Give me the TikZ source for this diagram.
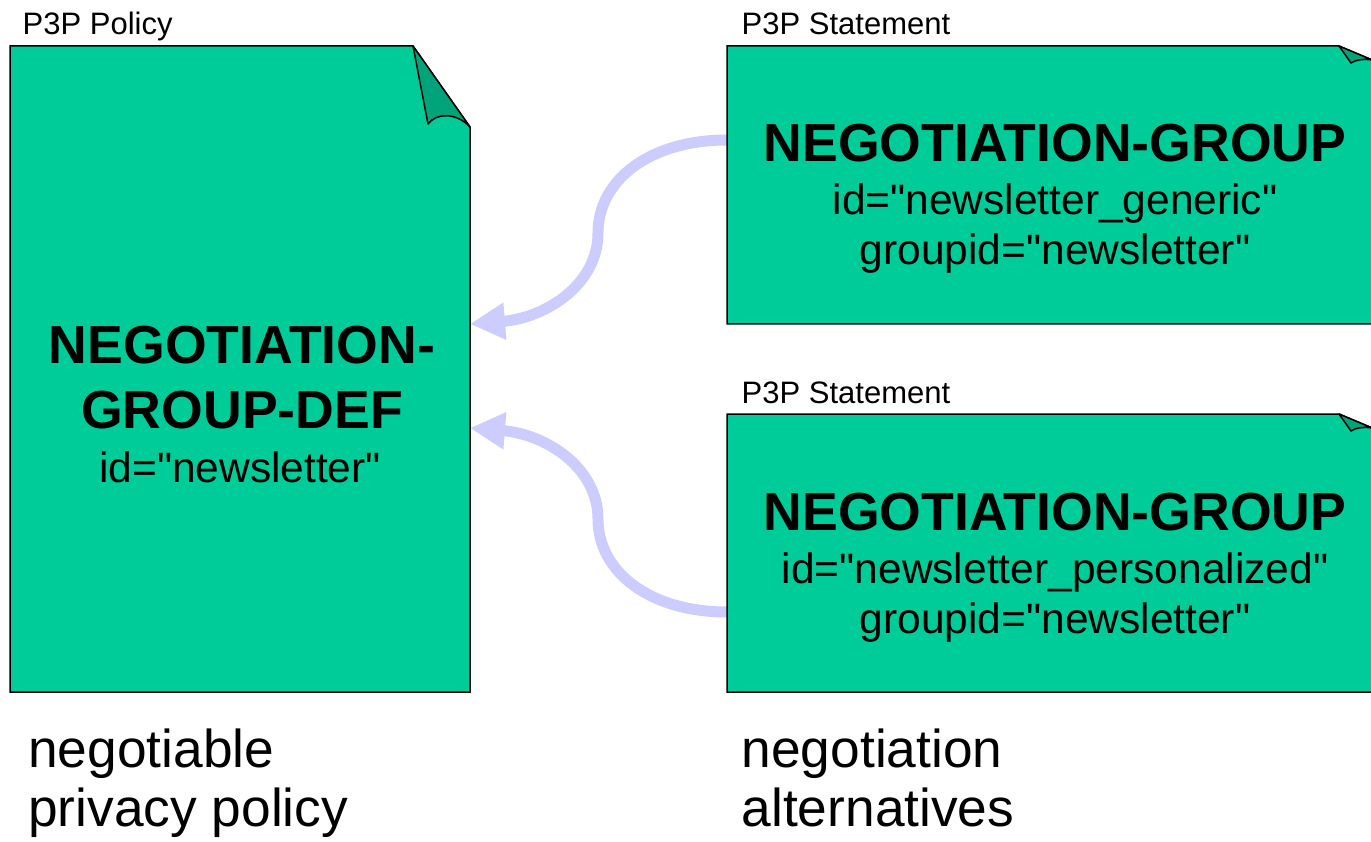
\documentclass[tikz,border=0pt]{standalone}
\usepackage{fontspec}
% plain character mapping, so that " prints as a straight quote
\setmainfont{Liberation Sans}[Ligatures=TeXOff]
\usetikzlibrary{arrows.meta}
\definecolor{pagegreen}{HTML}{00CC99}
\definecolor{foldgreen}{HTML}{00A37A}
\definecolor{linklav}{HTML}{CCCCFF}
\begin{document}
\begin{tikzpicture}[x=1pt,y=-1pt,
  docbox/.style={inner sep=0pt, outer sep=0pt, draw=none},
  page/.style={fill=pagegreen, draw=black, line width=1.5pt, line join=miter},
  flap/.style={fill=foldgreen, draw=black, line width=1.5pt, line join=round},
  caption/.style={font=\fontsize{31}{36}\selectfont, inner sep=0pt, anchor=base west},
  headtext/.style={font=\fontsize{53.6}{60}\selectfont\bfseries, inner sep=0pt, anchor=base},
  attrtext/.style={font=\fontsize{42.5}{48}\selectfont, inner sep=0pt, anchor=base},
  bigtext/.style={font=\fontsize{53.3}{60}\selectfont, inner sep=0pt, anchor=base west},
  link/.style={draw=linklav, line width=11pt, -{Triangle[length=35pt,width=35pt]}},
]
\useasboundingbox (0,0) rectangle (1371,842);
\clip (0,0) rectangle (1371,842);

% frames of the three documents
\node[docbox, minimum width=460pt, minimum height=646pt] (policy) at (240,369) {};
\node[docbox, minimum width=669pt, minimum height=278pt] (stmtA) at (1061.5,185) {};
\node[docbox, minimum width=669pt, minimum height=278pt] (stmtB) at (1061.5,553) {};

% references from the statements to the group definition
\draw[link] ([yshift=45pt]stmtA.west) .. controls (650,140) and (598,180) .. (598,233)
  .. controls (598,285) and (545,318) .. ([yshift=45pt]policy.east);
\draw[link] ([yshift=-59pt]stmtB.west) .. controls (650,612) and (598,572) .. (598,519)
  .. controls (598,467) and (545,434) .. ([yshift=-59pt]policy.east);

% policy page with folded corner
\draw[page] (policy.north west) -- ([xshift=-57pt]policy.north east)
  -- ([yshift=-81pt]policy.north east) -- (policy.south east) -- (policy.south west) -- cycle;
\draw[flap] ([xshift=-57pt]policy.north east) -- ([xshift=-42pt,yshift=-78pt]policy.north east)
  .. controls ([xshift=-34pt,yshift=-67pt]policy.north east) and ([xshift=-14pt,yshift=-66pt]policy.north east)
  .. ([yshift=-81pt]policy.north east) -- cycle;

% statement pages with folded corners
\foreach \s in {stmtA,stmtB}{
  \draw[page] (\s.north west) -- ([xshift=-57pt]\s.north east)
    -- ([yshift=-24pt]\s.north east) -- (\s.south east) -- (\s.south west) -- cycle;
  \draw[flap] ([xshift=-57pt]\s.north east) -- ([xshift=-45pt,yshift=-17pt]\s.north east)
    .. controls ([xshift=-36pt,yshift=-11pt]\s.north east) and ([xshift=-18pt,yshift=-12pt]\s.north east)
    .. ([yshift=-24pt]\s.north east) -- cycle;
}

% small titles above the pages
\node[caption] (policylbl) at (22.5,35) {P3P Policy};
\node[caption] (stmtAlbl) at (741.5,35) {P3P Statement};
\node[caption] (stmtBlbl) at (741.5,403) {P3P Statement};

% policy content
\node[headtext] (pdefA) at (242,363) {NEGOTIATION-};
\node[headtext] (pdefB) at (242,428) {GROUP-DEF};
\node[attrtext] (pid) at (240,482) {id="newsletter"};

% first statement content
\node[headtext] (gA) at (1055,162) {NEGOTIATION-GROUP};
\node[attrtext] (idA) at (1055,215) {id="newsletter\_generic"};
\node[attrtext] (grA) at (1055,265) {groupid="newsletter"};

% second statement content
\node[headtext] (gB) at (1055,530) {NEGOTIATION-GROUP};
\node[attrtext] (idB) at (1055,583) {id="newsletter\_personalized"};
\node[attrtext] (grB) at (1055,633) {groupid="newsletter"};

% captions below
\node[bigtext] (capL1) at (28,767) {negotiable};
\node[bigtext] (capL2) at (28,826) {privacy policy};
\node[bigtext] (capR1) at (741.5,767) {negotiation};
\node[bigtext] (capR2) at (741.5,826) {alternatives};
\end{tikzpicture}
\end{document}
